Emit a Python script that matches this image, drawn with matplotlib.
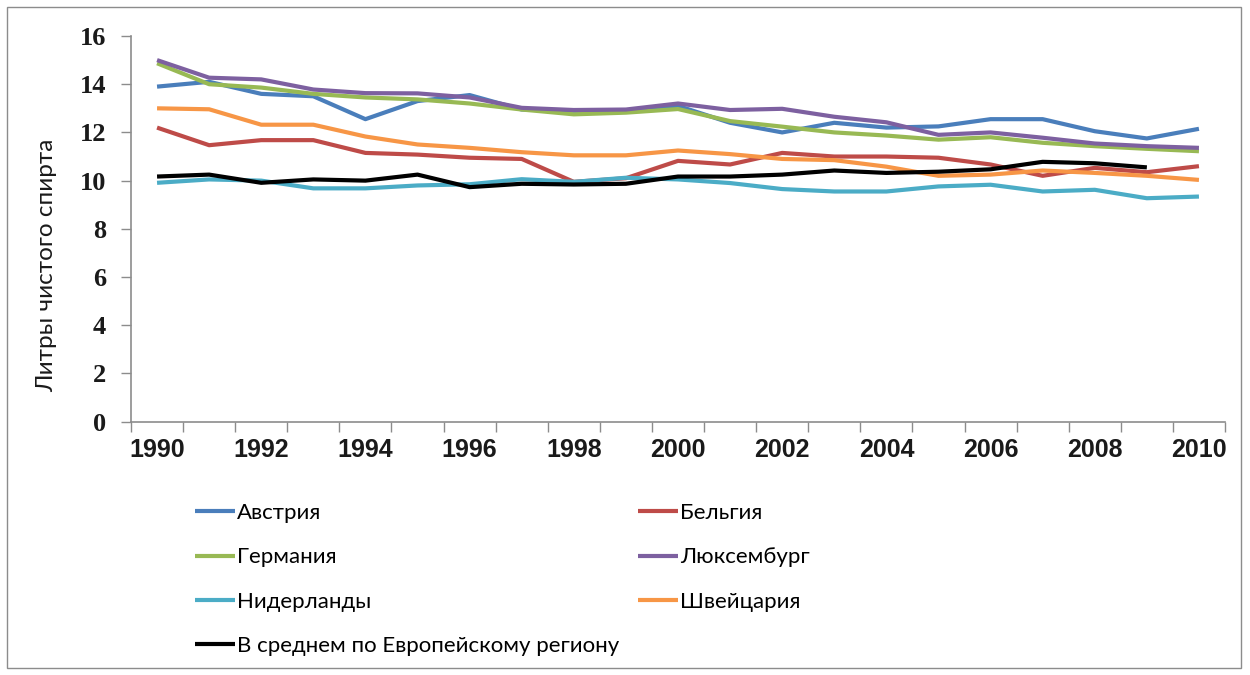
import matplotlib
matplotlib.use("Agg")
import matplotlib.pyplot as plt
from matplotlib.patches import Rectangle
from matplotlib.ticker import FixedLocator

years = list(range(1990, 2011))

austria = [13.9, 14.1, 13.6, 13.5, 12.55, 13.3, 13.55, 12.95, 12.9, 12.9, 13.1,
           12.4, 12.0, 12.4, 12.2, 12.25, 12.55, 12.55, 12.05, 11.75, 12.15]
belgium = [12.2, 11.47, 11.68, 11.68, 11.15, 11.08, 10.95, 10.9, 9.95, 10.1, 10.82,
           10.67, 11.15, 11.0, 11.0, 10.95, 10.67, 10.2, 10.53, 10.35, 10.6]
germany = [14.87, 14.0, 13.86, 13.6, 13.45, 13.37, 13.2, 12.95, 12.75, 12.82, 12.97,
           12.47, 12.24, 12.0, 11.87, 11.7, 11.8, 11.57, 11.43, 11.32, 11.22]
luxembourg = [15.0, 14.27, 14.2, 13.78, 13.63, 13.62, 13.45, 13.02, 12.93, 12.95, 13.2,
              12.93, 12.98, 12.65, 12.42, 11.9, 12.0, 11.78, 11.54, 11.43, 11.36]
netherlands = [9.91, 10.05, 10.0, 9.68, 9.68, 9.8, 9.85, 10.06, 9.95, 10.12, 10.05,
               9.9, 9.65, 9.55, 9.55, 9.76, 9.83, 9.55, 9.62, 9.27, 9.34]
switzerland = [13.0, 12.96, 12.32, 12.32, 11.83, 11.5, 11.36, 11.18, 11.05, 11.05, 11.25,
               11.1, 10.9, 10.85, 10.58, 10.2, 10.25, 10.42, 10.32, 10.2, 10.03]
europe_avg = [10.17, 10.25, 9.91, 10.05, 10.0, 10.25, 9.73, 9.87, 9.84, 9.87, 10.17,
              10.17, 10.25, 10.42, 10.32, 10.37, 10.47, 10.78, 10.72, 10.55]

series_names = ["Австрия", "Бельгия", "Германия", "Люксембург",
                "Нидерланды", "Швейцария", "В среднем по Европейскому региону"]
series_values = [austria, belgium, germany, luxembourg, netherlands, switzerland, europe_avg]
series_colors = ["#4A7EBB", "#BE4B48", "#98B954", "#7D60A0", "#4BACC6", "#F79646", "#000000"]

y_ticks = list(range(0, 17, 2))
x_label_years = list(range(1990, 2011, 2))
y_title = "Литры чистого спирта"

W, H = 1250, 675
fig = plt.figure(figsize=(W / 100, H / 100), dpi=100)
fig.patch.set_facecolor("white")

# outer chart frame
fig.patches.append(Rectangle((7 / W, 7 / H), (1241 - 7) / W, (668 - 7) / H,
                             transform=fig.transFigure, fill=False,
                             edgecolor="#8c8c8c", linewidth=1.0))

ax = fig.add_axes([131 / W, (H - 421.7) / H, (1225 - 131) / W, (421.7 - 36) / H])

lines = []
for name, vals, col in zip(series_names, series_values, series_colors):
    ln, = ax.plot(years[:len(vals)], vals, color=col, linewidth=3.0,
                  solid_joinstyle="round", solid_capstyle="butt", label=name)
    lines.append(ln)

ax.set_xlim(1989.5, 2010.5)
ax.set_ylim(0, 16)

for s in ("top", "right"):
    ax.spines[s].set_visible(False)
for s in ("left", "bottom"):
    ax.spines[s].set_color("#8c8c8c")
    ax.spines[s].set_linewidth(1.2)

ax.yaxis.set_major_locator(FixedLocator(y_ticks))
ax.tick_params(axis="y", direction="out", length=7, width=1.0, color="#8c8c8c", pad=11)
for lbl in ax.get_yticklabels():
    lbl.set_fontfamily("Liberation Serif")
    lbl.set_fontweight("bold")
    lbl.set_fontsize(19)
    lbl.set_color("#1a1a1a")

ax.xaxis.set_major_locator(FixedLocator(x_label_years))
ax.xaxis.set_minor_locator(FixedLocator([y - 0.5 for y in years] + [years[-1] + 0.5]))
ax.set_xticklabels([str(y) for y in x_label_years])
ax.tick_params(axis="x", which="major", length=0, pad=12)
ax.tick_params(axis="x", which="minor", direction="out", length=7, width=1.0, color="#8c8c8c")
for lbl in ax.get_xticklabels():
    lbl.set_fontfamily("Liberation Sans")
    lbl.set_fontweight("bold")
    lbl.set_fontsize(18)
    lbl.set_color("#1a1a1a")

fig.text(47 / W, (H - 265) / H, y_title, rotation=90, ha="center", va="center",
         fontsize=17.5, family=["Lato", "DejaVu Sans"], color="#1a1a1a")

left_idx = [0, 2, 4, 6]
right_idx = [1, 3, 5]
leg_kw = dict(frameon=False, handlelength=1.8, handletextpad=0.1, labelspacing=1.1,
              prop={"family": ["Lato", "DejaVu Sans"], "size": 16}, borderaxespad=0,
              loc="upper left")
leg1 = fig.legend([lines[i] for i in left_idx], [series_names[i] for i in left_idx],
                  bbox_to_anchor=(186 / W, (H - 494) / H), **leg_kw)
leg2 = fig.legend([lines[i] for i in right_idx], [series_names[i] for i in right_idx],
                  bbox_to_anchor=(629 / W, (H - 494) / H), **leg_kw)

fig.savefig("out.png", dpi=100, facecolor="white")
